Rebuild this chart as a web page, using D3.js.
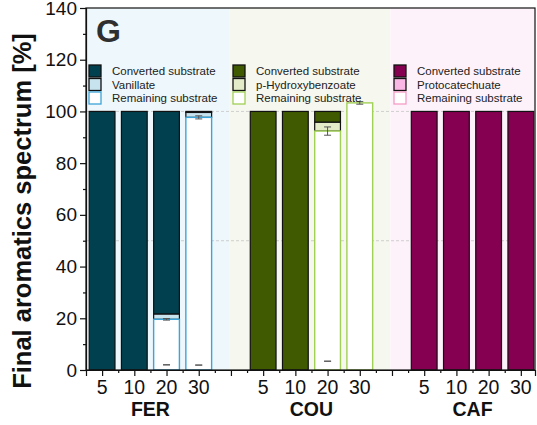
<!DOCTYPE html>
<html>
<head>
<meta charset="utf-8">
<script src="https://cdn.jsdelivr.net/npm/d3@7"></script>
<style>
  html, body { margin: 0; padding: 0; background: #ffffff; }
  svg { display: block; font-family: "Liberation Sans", Arial, sans-serif; }
</style>
</head>
<body>
<svg id="chart" width="537" height="425"></svg>
<script>
// Substrates, sampling times and the stacked composition of each bar (%)
const substrates = ["FER", "COU", "CAF"];
const timepoints = ["5", "10", "20", "30"];
const productNames = ["Vanillate", "p-Hydroxybenzoate", "Protocatechuate"];

const remaining   = [[0, 0, 19.6, 97.7], [0, 0, 92.4, 103.3], [0, 0, 0, 0]];
const remainingSd = [[0, 0, 0.3, 0.6],   [0, 0, 1.6, 0.5],    [0, 0, 0, 0]];
const product     = [[0, 0, 2.0, 1.9],   [0, 0, 3.4, 0],      [0, 0, 0, 0]];
const productSd   = [[0, 0, 0, 0],       [0, 0, 0, 0],        [0, 0, 0, 0]];
const converted   = [[100, 100, 78.4, 0.4], [100, 100, 4.2, 0], [100, 100, 100, 100]];

const yTicks = [0, 20, 40, 60, 80, 100, 120, 140];

// Colour scheme per substrate: converted, product, remaining outline, panel background
const palette = [
  { conv: "#00404f", prod: "#c7e3ee", rem: "#3ba4d8", bg: "#eef7fb" },
  { conv: "#3f5a00", prod: "#e3ebc8", rem: "#a0d055", bg: "#f6f7ee" },
  { conv: "#850050", prod: "#fab6e4", rem: "#f59bc6", bg: "#fdf2fa" }
];

const svg = d3.select("#chart");
const plotL = 86, plotR = 535, plotT = 8, plotB = 370;

// Bars sit at slots 1-4, 6-9, 11-14 on a continuous position axis
const slot = (g, t) => g * 5 + t + 1;
const x = d3.scaleLinear().domain([0.5, 14.44]).range([plotL, plotR]);
const y = d3.scaleLinear().domain([0, 140]).range([plotB, plotT]);
const barW = x(0.8) - x(0);

// Panel backgrounds
const bounds = [0.5, 4.95, 9.95, 14.44];
substrates.forEach((s, g) => {
  svg.append("rect")
    .attr("x", x(bounds[g])).attr("y", plotT)
    .attr("width", x(bounds[g + 1]) - x(bounds[g])).attr("height", plotB - plotT)
    .attr("fill", palette[g].bg);
});

// Dashed reference lines
[50, 100].forEach(v => {
  svg.append("line")
    .attr("x1", plotL).attr("x2", plotR)
    .attr("y1", y(v)).attr("y2", y(v))
    .attr("stroke", "#c4c4c4").attr("stroke-width", 0.8)
    .attr("stroke-dasharray", "3,2");
});

// Stacked bars
substrates.forEach((s, g) => {
  timepoints.forEach((t, i) => {
    const cx = x(slot(g, i));
    const r = remaining[g][i], p = product[g][i], c = converted[g][i];
    const gBar = svg.append("g");
    if (c > 0) {
      gBar.append("rect")
        .attr("x", cx - barW / 2).attr("width", barW)
        .attr("y", y(r + p + c)).attr("height", y(r + p) - y(r + p + c))
        .attr("fill", palette[g].conv).attr("stroke", "#111").attr("stroke-width", 1.2);
    }
    if (p > 0) {
      gBar.append("rect")
        .attr("x", cx - barW / 2).attr("width", barW)
        .attr("y", y(r + p)).attr("height", y(r) - y(r + p))
        .attr("fill", palette[g].prod).attr("stroke", "#111").attr("stroke-width", 1.2);
    }
    if (r > 0) {
      gBar.append("rect")
        .attr("x", cx - barW / 2).attr("width", barW)
        .attr("y", y(r)).attr("height", y(0) - y(r))
        .attr("fill", "#ffffff").attr("stroke", palette[g].rem).attr("stroke-width", 1.4);
    }
  });
});

// Error bars: remaining substrate (stacked top) and product (own value)
function errorBar(cx, v, sd) {
  const cap = 3.5;
  const e = svg.append("g").attr("stroke", "#555").attr("stroke-width", 1);
  e.append("line").attr("x1", cx).attr("x2", cx).attr("y1", y(v - sd)).attr("y2", y(v + sd));
  e.append("line").attr("x1", cx - cap).attr("x2", cx + cap).attr("y1", y(v + sd)).attr("y2", y(v + sd));
  e.append("line").attr("x1", cx - cap).attr("x2", cx + cap).attr("y1", y(v - sd)).attr("y2", y(v - sd));
}
substrates.forEach((s, g) => {
  timepoints.forEach((t, i) => {
    const cx = x(slot(g, i));
    if (remaining[g][i] > 0) errorBar(cx, remaining[g][i], remainingSd[g][i]);
    if (product[g][i] > 0) errorBar(cx, product[g][i], productSd[g][i]);
  });
});

// Frame
svg.append("rect")
  .attr("x", plotL).attr("y", plotT).attr("width", plotR - plotL).attr("height", plotB - plotT)
  .attr("fill", "none").attr("stroke", "#111").attr("stroke-width", 1.2);

// Y axis
const yAxis = d3.axisLeft(y).tickValues(yTicks).tickSize(6).tickPadding(3);
const yG = svg.append("g").attr("transform", `translate(${plotL},0)`).call(yAxis);
yG.select(".domain").attr("stroke", "#111").attr("stroke-width", 1.2);
yG.selectAll(".tick line").attr("stroke", "#111").attr("stroke-width", 1.2);
yG.selectAll(".tick text").attr("font-size", 19).attr("fill", "#111")
  .attr("font-family", "Liberation Sans, Arial, sans-serif");
const yMinor = d3.axisLeft(y).tickValues(d3.range(10, 140, 20)).tickSize(3).tickFormat("");
const yMG = svg.append("g").attr("transform", `translate(${plotL},0)`).call(yMinor);
yMG.select(".domain").remove();
yMG.selectAll(".tick line").attr("stroke", "#111").attr("stroke-width", 1.2);

// X axis: long ticks on every slot, short ticks between
const xMajor = d3.axisBottom(x).tickValues(d3.range(1, 15)).tickSize(6).tickFormat("");
const xG = svg.append("g").attr("transform", `translate(0,${plotB})`).call(xMajor);
xG.select(".domain").attr("stroke", "#111").attr("stroke-width", 1.2);
xG.selectAll(".tick line").attr("stroke", "#111").attr("stroke-width", 1.2);
const xMinor = d3.axisBottom(x).tickValues(d3.range(1.5, 14.5, 1)).tickSize(3).tickFormat("");
const xMG = svg.append("g").attr("transform", `translate(0,${plotB})`).call(xMinor);
xMG.select(".domain").remove();
xMG.selectAll(".tick line").attr("stroke", "#111").attr("stroke-width", 1.2);

// Time labels and substrate group labels
substrates.forEach((s, g) => {
  timepoints.forEach((t, i) => {
    svg.append("text")
      .attr("x", x(slot(g, i))).attr("y", 394)
      .attr("text-anchor", "middle").attr("font-size", 19.5).attr("fill", "#111")
      .text(t);
  });
  svg.append("text")
    .attr("x", (x(slot(g, 0)) + x(slot(g, 3))) / 2).attr("y", 416)
    .attr("text-anchor", "middle").attr("font-size", 19.5).attr("font-weight", "bold")
    .attr("fill", "#111").text(s);
});

// Y axis title
svg.append("text")
  .attr("transform", "translate(31,211) rotate(-90)")
  .attr("text-anchor", "middle").attr("font-size", 25.5).attr("font-weight", "bold")
  .attr("fill", "#111").text("Final aromatics spectrum [%]");

// Panel letter
svg.append("text")
  .attr("x", 96).attr("y", 42).attr("font-size", 32).attr("font-weight", "bold")
  .attr("fill", "#2f2f2f").text("G");

// Legends, one per substrate
const legendX = [89, 233, 394];
substrates.forEach((s, g) => {
  const entries = [
    { label: "Converted substrate", fill: palette[g].conv, stroke: "#111" },
    { label: productNames[g], fill: palette[g].prod, stroke: "#111" },
    { label: "Remaining substrate", fill: "#ffffff", stroke: palette[g].rem }
  ];
  entries.forEach((e, k) => {
    const cy = 71 + k * 13.5;
    svg.append("rect")
      .attr("x", legendX[g]).attr("y", cy - 6).attr("width", 12).attr("height", 12)
      .attr("fill", e.fill).attr("stroke", e.stroke).attr("stroke-width", 1.3);
    svg.append("text")
      .attr("x", legendX[g] + 23).attr("y", cy + 4.2)
      .attr("font-size", 11.5).attr("fill", "#222").text(e.label);
  });
});
</script>
</body>
</html>
